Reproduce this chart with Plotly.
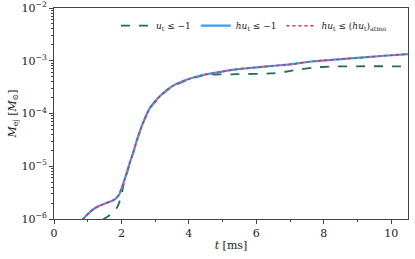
import plotly.graph_objects as go

# hu_t <= -1 (and hu_t <= (hu_t)_atmo, nearly identical)
t_hu = [0.84, 0.95, 1.08, 1.2, 1.38, 1.77, 1.92, 2.02, 2.12, 2.27, 2.37, 2.47, 2.67, 2.86, 3.16, 3.46, 3.85, 4.35, 4.94, 5.45, 5.92, 6.42, 7.0, 7.7, 8.7, 9.69, 10.5]
log_hu = [-6.02, -5.94, -5.86, -5.80, -5.74, -5.64, -5.55, -5.39, -5.20, -4.89, -4.70, -4.48, -4.13, -3.88, -3.66, -3.50, -3.38, -3.28, -3.21, -3.16, -3.13, -3.10, -3.07, -3.01, -2.96, -2.91, -2.875]

# u_t <= -1
t_u = [1.43, 1.73, 1.88, 1.99, 2.07, 2.17, 2.27, 2.37, 2.47, 2.67, 2.86, 3.16, 3.46, 3.85, 4.35, 4.55, 5.45, 6.42, 6.72, 7.22, 7.7, 8.2, 9.0, 10.5]
log_u = [-6.02, -5.89, -5.77, -5.58, -5.33, -5.12, -4.90, -4.71, -4.49, -4.14, -3.89, -3.67, -3.51, -3.39, -3.29, -3.265, -3.255, -3.24, -3.225, -3.17, -3.13, -3.11, -3.105, -3.105]

x_ticks = [0, 2, 4, 6, 8, 10]
y_ticks = [1e-6, 1e-5, 1e-4, 1e-3, 1e-2]
y_ticktext = ["10<sup>−6</sup>", "10<sup>−5</sup>", "10<sup>−4</sup>", "10<sup>−3</sup>", "10<sup>−2</sup>"]

FONT = "DejaVu Serif"

fig = go.Figure()
fig.add_trace(go.Scatter(
    x=t_u, y=[10 ** v for v in log_u], mode="lines",
    name="<i>u</i><sub>t</sub> ≤ −1",
    line=dict(color="#1f6e5c", width=1.8, dash="dash", shape="spline", smoothing=0.6),
))
fig.add_trace(go.Scatter(
    x=t_hu, y=[10 ** v for v in log_hu], mode="lines",
    name="<i>hu</i><sub>t</sub> ≤ −1",
    line=dict(color="#3d9bf0", width=2.2, shape="spline", smoothing=0.6),
))
fig.add_trace(go.Scatter(
    x=t_hu, y=[10 ** v for v in log_hu], mode="lines",
    name="<i>hu</i><sub>t</sub> ≤ (<i>hu</i><sub>t</sub>)<sub>atmo</sub>",
    line=dict(color="#e8303a", width=1.5, dash="dot", shape="spline", smoothing=0.6),
))

fig.update_layout(
    width=415, height=259,
    margin=dict(l=54, r=7, t=8, b=40, autoexpand=False),
    paper_bgcolor="white", plot_bgcolor="white",
    font=dict(family=FONT, size=11, color="#222"),
    showlegend=True,
    legend=dict(orientation="h", x=0.175, y=0.985, xanchor="left", yanchor="top",
                bgcolor="rgba(0,0,0,0)", font=dict(size=9, family=FONT),
                itemwidth=30, tracegroupgap=0),
)
fig.update_xaxes(
    range=[0, 10.5], tickvals=x_ticks, ticks="outside", ticklen=4, tickcolor="#444",
    showline=True, linecolor="#444", linewidth=1, mirror=True, showgrid=False, zeroline=False,
    minor=dict(dtick=1, ticks="outside", ticklen=2, tickcolor="#444"),
    title=dict(text="<i>t</i> [ms]", standoff=2, font=dict(size=11)),
    tickfont=dict(size=11), automargin=False,
)
fig.update_yaxes(
    type="log", range=[-6, -2], tickvals=y_ticks, ticktext=y_ticktext,
    ticks="outside", ticklen=4, tickcolor="#444",
    showline=True, linecolor="#444", linewidth=1, mirror=True, showgrid=False, zeroline=False,
    minor=dict(ticks="outside", ticklen=2, tickcolor="#444", dtick="D1"),
    title=dict(text="<i>M</i><sub>ej</sub> [<i>M</i><sub>⊙</sub>]", standoff=2, font=dict(size=11)),
    tickfont=dict(size=11), automargin=False,
)

fig.write_html("out.html", config={"displayModeBar": False},
               post_script="document.body.style.margin='0';")
